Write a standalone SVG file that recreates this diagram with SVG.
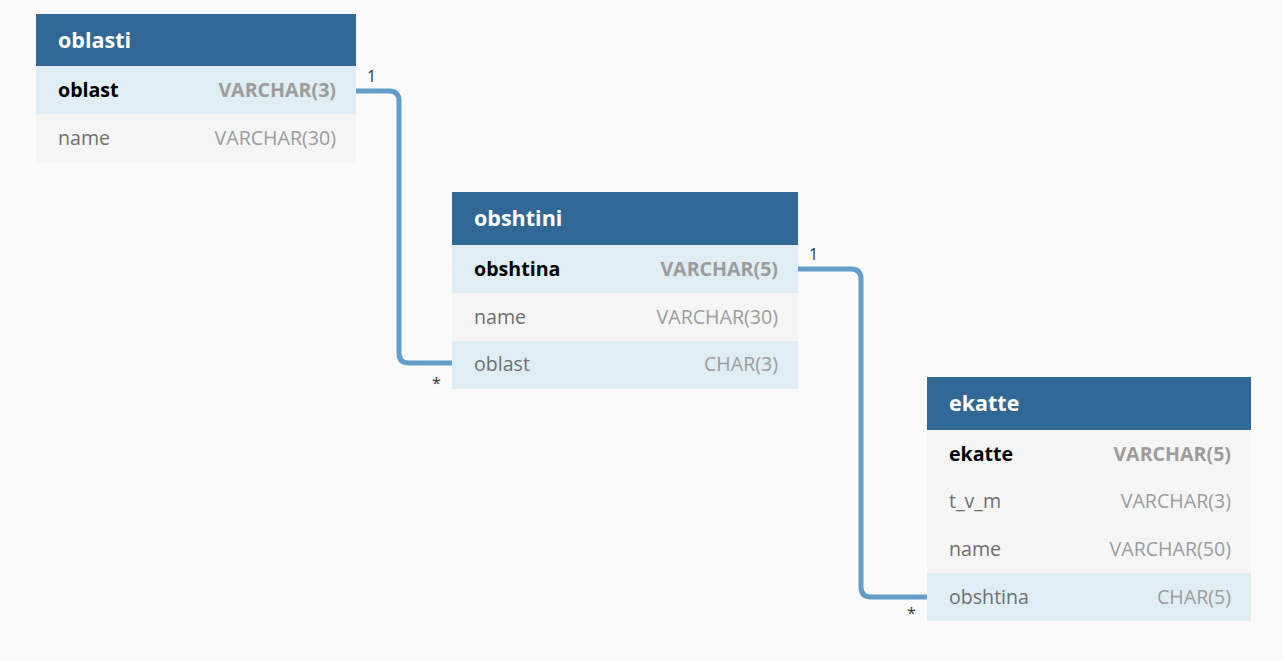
<svg xmlns="http://www.w3.org/2000/svg" width="1283" height="661" viewBox="0 0 1283 661">
<style>
.hdr{fill:#316896}
.pk{fill:#dfedf5}
.row{fill:#f5f5f5}
.fk{fill:#dfedf5}
.title{font-family:"Open Sans","Noto Sans",sans-serif;font-size:21.5px;font-weight:bold;fill:#ffffff}
.col{font-family:"Open Sans","Noto Sans",sans-serif;font-size:19.6px;fill:#6f6f6f}
.colb{font-family:"Open Sans","Noto Sans",sans-serif;font-size:19.6px;font-weight:bold;fill:#000000}
.typ{font-family:"Open Sans","Noto Sans",sans-serif;font-size:19.6px;fill:#9c9c9c;text-anchor:end}
.typb{font-family:"Open Sans","Noto Sans",sans-serif;font-size:19.6px;font-weight:bold;fill:#9c9c9c;text-anchor:end}
.card{font-family:"Open Sans","Noto Sans",sans-serif;font-size:16px;fill:#333333}
.conn{fill:none;stroke:#639ecb;stroke-width:5}
</style>
<rect width="1283" height="661" fill="#fafafa"/>
<g id="connectors">
<path class="conn" d="M356,91 H389 Q399,91 399,101 V353 Q399,363 409,363 H452"/>
<path class="conn" d="M798,269 H851 Q861,269 861,279 V587 Q861,597 871,597 H927"/>
<text class="card" x="367" y="82">1</text>
<text class="card" x="432" y="389">*</text>
<text class="card" x="809" y="260">1</text>
<text class="card" x="907" y="619">*</text>
</g>
<g id="oblasti">
<rect class="hdr" x="36" y="14" width="320" height="52"/>
<text class="title" x="58" y="48">oblasti</text>
<rect class="pk" x="36" y="66" width="320" height="48"/>
<text class="colb" x="58" y="97">oblast</text>
<text class="typb" x="336" y="97">VARCHAR(3)</text>
<rect class="row" x="36" y="114" width="320" height="48"/>
<text class="col" x="58" y="145">name</text>
<text class="typ" x="336" y="145">VARCHAR(30)</text>
</g>
<g id="obshtini">
<rect class="hdr" x="452" y="192" width="346" height="53"/>
<text class="title" x="474" y="226">obshtini</text>
<rect class="pk" x="452" y="245" width="346" height="48"/>
<text class="colb" x="474" y="276">obshtina</text>
<text class="typb" x="778" y="276">VARCHAR(5)</text>
<rect class="row" x="452" y="293" width="346" height="48"/>
<text class="col" x="474" y="324">name</text>
<text class="typ" x="778" y="324">VARCHAR(30)</text>
<rect class="fk" x="452" y="341" width="346" height="48"/>
<text class="col" x="474" y="371">oblast</text>
<text class="typ" x="778" y="371">CHAR(3)</text>
</g>
<g id="ekatte">
<rect class="hdr" x="927" y="377" width="324" height="53"/>
<text class="title" x="949" y="411">ekatte</text>
<rect class="row" x="927" y="430" width="324" height="48"/>
<text class="colb" x="949" y="461">ekatte</text>
<text class="typb" x="1231" y="461">VARCHAR(5)</text>
<rect class="row" x="927" y="478" width="324" height="48"/>
<text class="col" x="949" y="508">t_v_m</text>
<text class="typ" x="1231" y="508">VARCHAR(3)</text>
<rect class="row" x="927" y="526" width="324" height="47"/>
<text class="col" x="949" y="556">name</text>
<text class="typ" x="1231" y="556">VARCHAR(50)</text>
<rect class="fk" x="927" y="573" width="324" height="48"/>
<text class="col" x="949" y="604">obshtina</text>
<text class="typ" x="1231" y="604">CHAR(5)</text>
</g>
</svg>
